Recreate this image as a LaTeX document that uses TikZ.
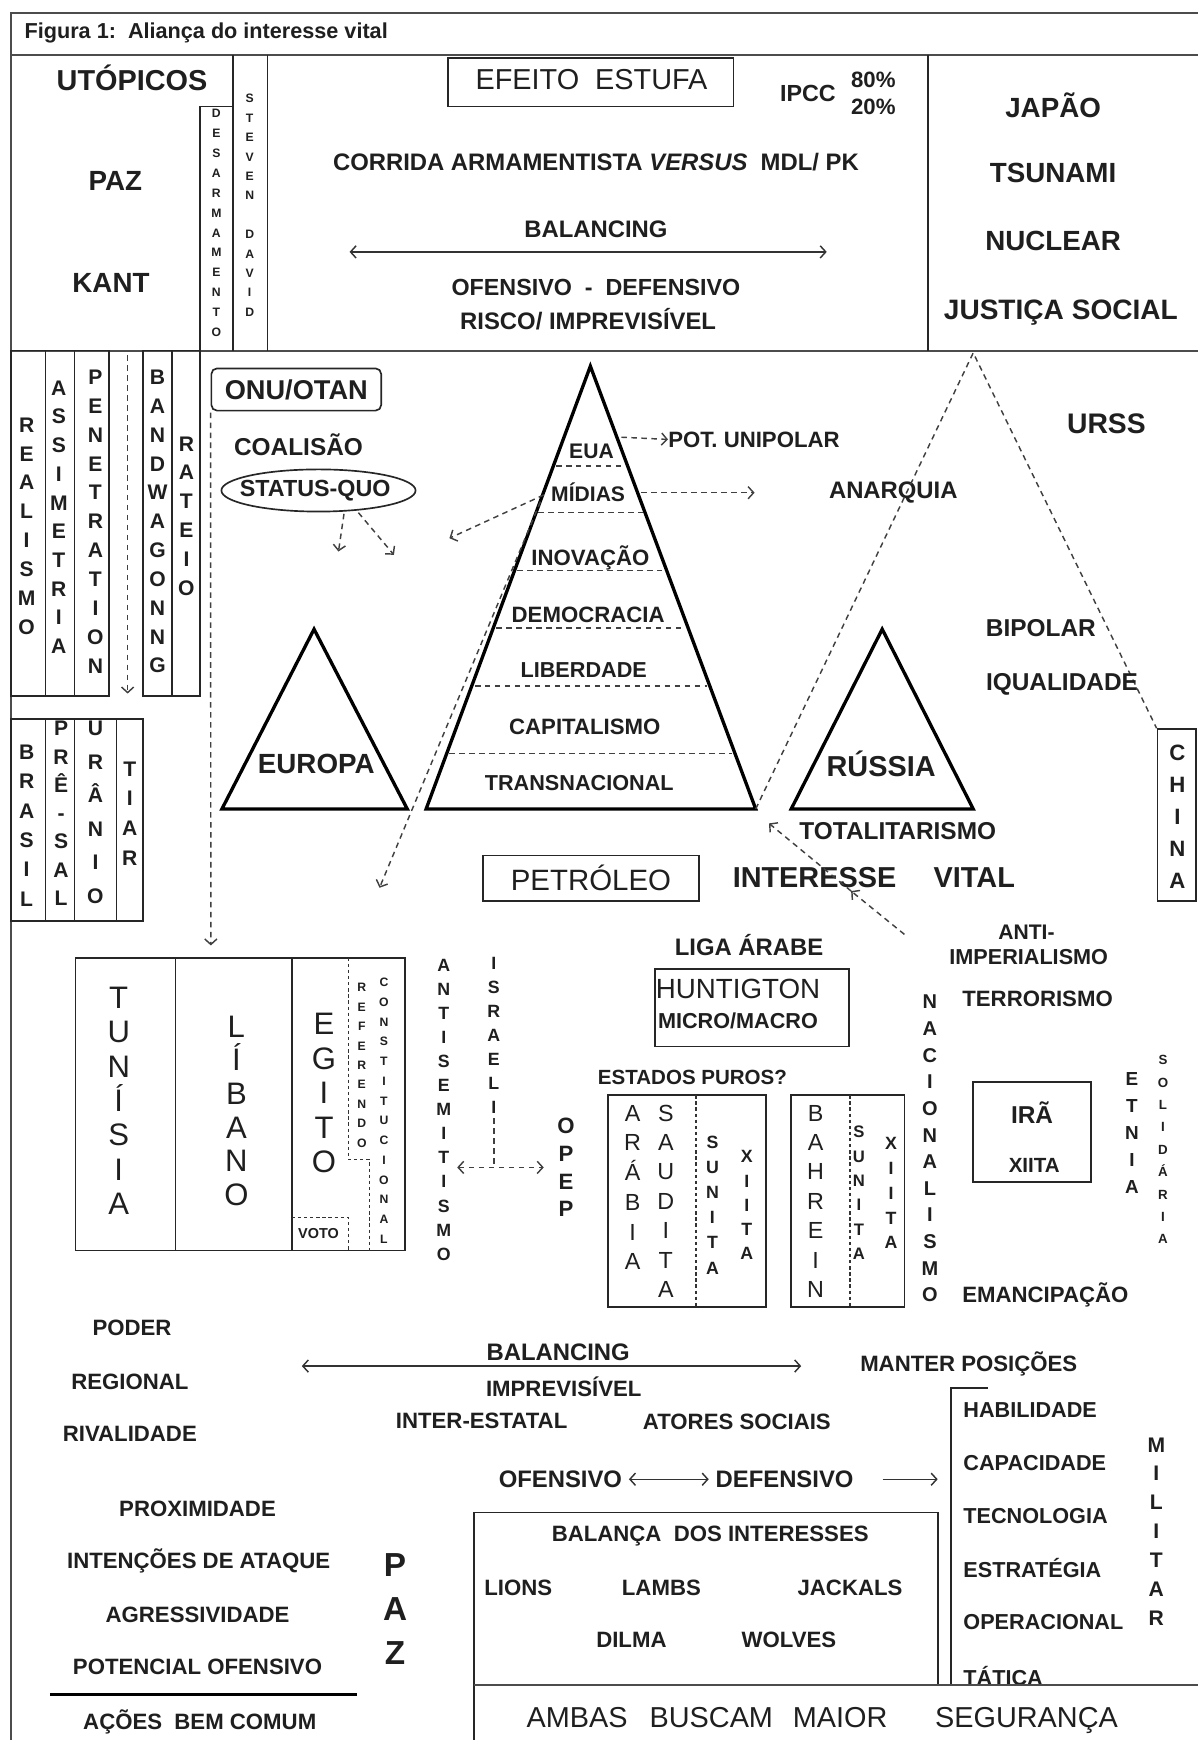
\documentclass[tikz,border=0pt]{standalone}
\usepackage{fontspec}
\setmainfont{Liberation Sans}
\usetikzlibrary{arrows.meta,shapes.geometric}
\newcommand{\myF}[2]{\fontsize{#1}{#2}\selectfont\bfseries}
\newcommand{\myR}[2]{\fontsize{#1}{#2}\selectfont}
\begin{document}
\begin{tikzpicture}[x=1pt,y=-1pt,
  every node/.style={inner sep=0pt, text=black!88},
  frame/.style={line width=1.8pt, draw=black!70},
  box/.style={line width=1.5pt, draw=black!85},
  tri/.style={line width=3pt, line join=miter, draw=black},
  dsh/.style={dash pattern=on 5pt off 4pt, line width=1.3pt, draw=black!75},
  dot/.style={dash pattern=on 3pt off 2.5pt, line width=1.3pt, draw=black!80},
  arr/.style={-{Straight Barb[length=5pt,width=11pt]}},
  darr/.style={{Straight Barb[length=5pt,width=11pt]}-{Straight Barb[length=5pt,width=11pt]}},
  vl/.style={align=center},
  lab/.style={font=\myF{20}{22}},
  big/.style={font=\myR{26}{28}, text height=18.7pt, text depth=0pt}
]
\useasboundingbox (0,0) rectangle (1080,1568);
\fill[white] (0,0) rectangle (1080,1568);

% ---------- frame ----------
\draw[frame] (10,1568) -- (10,12) -- (1080,12);
\draw[frame] (10,50) -- (1080,50);
\draw[frame] (10,316) -- (1080,316);
\node[anchor=west, font=\myF{19.5}{22}] (title) at (22,30) {Figura 1:\ \ Aliança do interesse vital};

% ---------- top section ----------
\draw[box] (210,50) -- (210,316);
\draw[box] (241,50) -- (241,316);
\draw[box] (210,96) -- (180,96) -- (180,316);
\draw[box] (836,50) -- (836,316);
\node[font=\myF{26}{28}] (utop) at (119,70) {UTÓPICOS};
\node[font=\myF{25}{28}] (paz1) at (104,163) {PAZ};
\node[font=\myF{25}{28}] (kant) at (100,255) {KANT};
\node[vl, font=\myF{11}{17.9}] (desarm) at (195,201) {D\\E\\S\\A\\R\\M\\A\\M\\E\\N\\T\\O};
\node[vl, font=\myF{11}{17.5}] (steven) at (225,185) {S\\T\\E\\V\\E\\N\\~\\D\\A\\V\\I\\D};

\node[box, draw, minimum width=257pt, minimum height=44pt] (efeito) at (532.5,74) {};
\node[font=\myR{26}{28}] (efeitot) at (533,72) {EFEITO\ \ ESTUFA};
\node[font=\myF{21}{22}] (ipcc) at (728,84) {IPCC};
\node[font=\myF{20}{22}] (p80) at (787,72) {80\%};
\node[font=\myF{20}{22}] (p20) at (787,96) {20\%};
\node[font=\myF{21.5}{24}] (corrida) at (537,146) {CORRIDA ARMAMENTISTA \textit{VERSUS}\ \ MDL/ PK};
\node[font=\myF{21.5}{24}] (bal1) at (537,207) {BALANCING};
\coordinate (b1l) at (315,227);
\coordinate (b1r) at (745,227);
\draw[darr, line width=1.3pt, draw=black!80] (b1l) -- (b1r);
\node[font=\myF{21}{24}] (ofdef1) at (537,259) {OFENSIVO\ \ -\ \ DEFENSIVO};
\node[font=\myF{21.5}{24}] (risco) at (530,288) {RISCO/ IMPREVISÍVEL};
\node[font=\myF{25}{27}] (japao) at (949,95) {JAPÃO};
\node[font=\myF{25}{27}] (tsunami) at (949,156) {TSUNAMI};
\node[font=\myF{25}{27}] (nuclear) at (949,217) {NUCLEAR};
\node[font=\myF{25.3}{27}, text height=18.1pt, text depth=0pt] (justica) at (956,279) {JUSTIÇA SOCIAL};

% ---------- left boxes ----------
\draw[box] (10,316) rectangle (98,627);
\draw[box] (41,316) -- (41,627);
\draw[box] (67,316) -- (67,627);
\draw[box] (129,316) rectangle (180,627);
\draw[box] (155,316) -- (155,627);
\coordinate (da1) at (115,320);
\coordinate (da2) at (115,625);
\draw[dsh, arr] (da1) -- (da2);
\node[vl, font=\myF{19}{26}] (realismo) at (24,474) {R\\E\\A\\L\\I\\S\\M\\O};
\node[vl, font=\myF{19}{25.9}] (assim) at (53,466) {A\\S\\S\\I\\M\\E\\T\\R\\I\\A};
\node[vl, font=\myF{19}{26}] (penet) at (86,470) {P\\E\\N\\E\\T\\R\\A\\T\\I\\O\\N};
\node[vl, font=\myF{19}{26}] (bandw) at (142,470) {B\\A\\N\\D\\W\\A\\G\\O\\N\\N\\G};
\node[vl, font=\myF{19}{26}] (rateio) at (168,465) {R\\A\\T\\E\\I\\O};

\draw[box] (10,648) rectangle (129,830);
\draw[box] (41,648) -- (41,830);
\draw[box] (67,648) -- (67,830);
\draw[box] (105,648) -- (105,830);
\node[vl, font=\myF{19}{26.4}] (brasil) at (24,744) {B\\R\\A\\S\\I\\L};
\node[vl, font=\myF{19}{25.5}] (presal) at (55,733) {P\\R\\Ê\\-\\S\\A\\L};
\node[vl, font=\myF{19}{30.2}] (uranio) at (86,732) {U\\R\\Â\\N\\I\\O};
\node[vl, font=\myF{19}{26.7}] (tiar) at (117,733) {T\\I\\A\\R};

% ---------- ONU / EUROPA ----------
\node[box, draw, rounded corners=5pt, minimum width=153pt, minimum height=38pt, font=\myF{24.5}{26}] (onu) at (267,351) {ONU/OTAN};
\coordinate (onuarrow) at (190,852);
\draw[dsh, arr] (onu.south west) ++(0,1) -- (onuarrow);
\node[font=\myF{22}{24}] (coal) at (269,401) {COALISÃO};
\node[box, draw, ellipse, minimum width=175pt, minimum height=38pt] (sq) at (287,442) {};
\node[font=\myF{21}{23}] (sqt) at (284,442) {STATUS-QUO};
\coordinate (sqa) at (305,497);
\coordinate (sqb) at (355,500);
\draw[dsh, arr] (310,463) -- (sqa);
\draw[dsh, arr] (323,462) -- (sqb);

\coordinate (eA) at (283,567);
\coordinate (eL) at (200,729);
\coordinate (eR) at (367,729);
\draw[tri] (eL) -- (eA) -- (eR) -- cycle;
\node[font=\myF{25}{27}] (europa) at (285,688) {EUROPA};

% ---------- pyramid ----------
\coordinate (pA) at (532,330);
\coordinate (pL) at (384,729);
\coordinate (pR) at (681,729);
\draw[tri] (pL) -- (pA) -- (pR) -- cycle;
\draw[dsh] (501,420) -- (563,420);
\draw[dsh] (485,462) -- (579,462);
\draw[dsh] (466,514) -- (598,514);
\draw[dsh] (447,566) -- (618,566);
\draw[dsh] (428,618) -- (637,618);
\draw[dsh] (405,679) -- (660,679);
\node[font=\myF{19}{21}] (eua) at (533,407) {EUA};
\node[font=\myF{19}{21}] (midias) at (530,444) {MÍDIAS};
\node[font=\myF{20}{22}] (inov) at (532,503) {INOVAÇÃO};
\node[font=\myF{20}{22}] (democ) at (530,554) {DEMOCRACIA};
\node[font=\myF{19.5}{22}] (liber) at (526,604) {LIBERDADE};
\node[font=\myF{20}{22}] (capit) at (527,655) {CAPITALISMO};
\node[font=\myF{19.5}{22}] (transn) at (522,706) {TRANSNACIONAL};

\node[anchor=west, font=\myF{20}{22}] (unip) at (602,396) {POT. UNIPOLAR};
\draw[dsh, arr] (560,394) -- (unip.west);
\node[font=\myF{21.5}{24}] (anarq) at (805,444) {ANARQUIA};
\coordinate (mda) at (680,444);
\draw[dsh, arr] (578,444) -- (mda);
\coordinate (mdl) at (405,485);
\draw[dsh, arr] (490,446) -- (mdl);
\coordinate (mdd) at (342,800);
\draw[dsh, arr] (487,452) -- (mdd);

% ---------- big dashed triangle, URSS, RUSSIA, CHINA ----------
\coordinate (uA) at (877,318);
\node[box, draw, minimum width=35pt, minimum height=155pt] (china) at (1060.5,734.5) {};
\node[vl, font=\myF{20}{29}] (chinat) at (1061,736) {C\\H\\I\\N\\A};
\draw[dsh] (pR) -- (uA) -- (china.north west);
\node[font=\myF{25.5}{27}] (urss) at (997,382) {URSS};
\node[font=\myF{22}{24}] (bipolar) at (938,566) {BIPOLAR};
\node[font=\myF{22}{24}] (iqual) at (957,617) {IQUALIDADE};
\coordinate (rA) at (795,567);
\coordinate (rL) at (713,729);
\coordinate (rR) at (877,729);
\draw[tri] (rL) -- (rA) -- (rR) -- cycle;
\node[font=\myF{26}{28}] (russia) at (794,688) {RÚSSIA};
\node[font=\myF{22}{24}] (totalit) at (809,749) {TOTALITARISMO};

% ---------- petroleo / interesse vital ----------
\node[box, draw, minimum width=195pt, minimum height=41pt] (petro) at (532.5,791.5) {};
\node[font=\myR{26.5}{28}] (petrot) at (532.5,791) {PETRÓLEO};
\node[font=\myF{26}{28}] (interesse) at (734,791) {INTERESSE};
\node[font=\myF{26}{28}] (vital) at (878,791) {VITAL};
\coordinate (ivs) at (815,842);
\coordinate (ivm) at (767,803);
\coordinate (ive) at (693,742);
\draw[dsh, arr] (ivs) -- (ivm);
\draw[dsh, arr] (ivm) -- (ive);

% ---------- Tunisia / Libano / Egito ----------
\node[box, draw, minimum width=297pt, minimum height=264pt] (arab) at (216.5,995) {};
\draw[box] (158,863) -- (158,1127);
\draw[box] (263,863) -- (263,1127);
\draw[dot] (314,863) -- (314,1045) -- (333,1045) -- (333,1127);
\draw[dot] (263,1097) -- (314,1097) -- (314,1127);
\node[vl, font=\myR{28}{31}] (tunisia) at (107,992) {T\\U\\N\\Í\\S\\I\\A};
\node[vl, font=\myR{28}{30.4}] (libano) at (213,1001) {L\\Í\\B\\A\\N\\O};
\node[vl, font=\myR{28}{31}] (egito) at (292,985) {E\\G\\I\\T\\O};
\node[vl, font=\myF{11}{17.5}] (refer) at (326,960) {R\\E\\F\\E\\R\\E\\N\\D\\O};
\node[vl, font=\myF{11}{17.8}] (constit) at (346,1001) {C\\O\\N\\S\\T\\I\\T\\U\\C\\I\\O\\N\\A\\L};
\node[font=\myF{13}{14}] (voto) at (287,1112) {VOTO};

\node[vl, font=\myF{16}{21.7}] (antisem) at (400,1000) {A\\N\\T\\I\\S\\E\\M\\I\\T\\I\\S\\M\\O};
\node[vl, font=\myF{16}{21.7}] (israeli) at (445,933) {I\\S\\R\\A\\E\\L\\I};
\node[vl, font=\myF{20}{25}] (opep) at (510,1052) {O\\P\\E\\P};
\coordinate (isj) at (445,1052);
\coordinate (isl) at (412,1052);
\coordinate (isr) at (490,1052);
\draw[dsh] (israeli.south) ++(0,4) -- (isj);
\draw[dsh, darr] (isl) -- (isr);

% ---------- middle right ----------
\node[font=\myF{21.5}{24}] (liga) at (675,852) {LIGA ÁRABE};
\node[box, draw, minimum width=175pt, minimum height=70pt] (hunt) at (677.5,908) {};
\node[font=\myR{25}{27}] (huntt) at (665,891) {HUNTIGTON};
\node[font=\myF{19.5}{21}] (micro) at (665,920) {MICRO/MACRO};
\node[font=\myF{18.5}{20}] (estados) at (624,971) {ESTADOS PUROS?};

\node[box, draw, minimum width=142pt, minimum height=191pt] (sauditabox) at (619,1082.5) {};
\draw[dot] (627,987) -- (627,1178);
\node[vl, font=\myR{21}{26.8}] (arabia) at (570,1070) {A\\R\\Á\\B\\I\\A};
\node[vl, font=\myR{21}{26.5}] (saudita) at (600,1082.5) {S\\A\\U\\D\\I\\T\\A};
\node[vl, font=\myF{16}{22.6}] (sun1) at (642,1086) {S\\U\\N\\I\\T\\A};
\node[vl, font=\myF{16}{21.8}] (xi1) at (673,1086) {X\\I\\I\\T\\A};

\node[box, draw, minimum width=102pt, minimum height=191pt] (bahbox) at (764,1082.5) {};
\draw[dot] (766,987) -- (766,1178);
\node[vl, font=\myR{21}{26.5}] (bahrein) at (735,1082.5) {B\\A\\H\\R\\E\\I\\N};
\node[vl, font=\myF{15}{22}] (sun2) at (774,1075) {S\\U\\N\\I\\T\\A};
\node[vl, font=\myF{16}{22.5}] (xi2) at (803,1075) {X\\I\\I\\T\\A};

\node[vl, font=\myF{18}{24}] (nacion) at (838,1035) {N\\A\\C\\I\\O\\N\\A\\L\\I\\S\\M\\O};
\node[font=\myF{19}{21}] (anti) at (925,840) {ANTI-};
\node[font=\myF{19.5}{21}] (imper) at (927,862) {IMPERIALISMO};
\node[font=\myF{20}{22}] (terror) at (935,900) {TERRORISMO};
\node[box, draw, minimum width=106pt, minimum height=90pt] (irabox) at (930,1020) {};
\node[font=\myF{22}{24}] (ira) at (930,1003) {IRÃ};
\node[font=\myF{18.5}{20}] (xi3) at (932,1050) {XIITA};
\node[vl, font=\myF{17}{24.5}] (etnia) at (1020,1021) {E\\T\\N\\I\\A};
\node[vl, font=\myF{12}{20.2}] (solid) at (1048,1036) {S\\O\\L\\I\\D\\Á\\R\\I\\A};
\node[font=\myF{20}{22}] (emanc) at (942,1167) {EMANCIPAÇÃO};

% ---------- bottom ----------
\node[lab] (poder) at (119,1197) {PODER};
\node[lab] (regional) at (117,1245) {REGIONAL};
\node[lab] (rival) at (117,1292) {RIVALIDADE};
\coordinate (b2l) at (272,1231);
\coordinate (b2r) at (722,1231);
\draw[darr, line width=1.3pt, draw=black!80] (b2l) -- (b2r);
\node[font=\myF{21.5}{23}] (bal2) at (503,1219) {BALANCING};
\node[lab] (impr2) at (508,1250) {IMPREVISÍVEL};
\node[lab] (manter) at (873,1229) {MANTER POSIÇÕES};
\node[lab] (interest) at (434,1280) {INTER-ESTATAL};
\node[lab] (atores) at (664,1281) {ATORES SOCIAIS};
\node[font=\myF{21.5}{23}] (ofen2) at (505,1333) {OFENSIVO};
\node[font=\myF{21.5}{23}] (defen2) at (707,1333) {DEFENSIVO};
\draw[darr, line width=1.3pt, draw=black!80] ([xshift=6pt]ofen2.east) -- ([xshift=-6pt]defen2.west);
\coordinate (mil) at (845,1333);
\draw[arr, line width=1.3pt, draw=black!80] ([xshift=26pt]defen2.east) -- (mil);

\draw[box] (890,1251) -- (857,1251) -- (857,1518);
\node[anchor=west, font=\myF{19.5}{22}] (habil) at (868,1271) {HABILIDADE};
\node[anchor=west, font=\myF{19.5}{22}] (capac) at (868,1318) {CAPACIDADE};
\node[anchor=west, font=\myF{19.5}{22}] (tecno) at (868,1366) {TECNOLOGIA};
\node[anchor=west, font=\myF{19.5}{22}] (estrat) at (868,1413) {ESTRATÉGIA};
\node[anchor=west, font=\myF{19.5}{22}] (operac) at (868,1462) {OPERACIONAL};
\node[anchor=west, font=\myF{19.5}{22}] (tatica) at (868,1510) {TÁTICA};
\node[vl, font=\myF{19}{26}] (militar) at (1042,1380) {M\\I\\L\\I\\T\\A\\R};

\draw[box] (427,1568) -- (427,1363) -- (845,1363) -- (845,1518);
\draw[frame] (427,1518) -- (1080,1518);
\node[lab] (balint) at (640,1384) {BALANÇA\ \ DOS INTERESSES};
\node[lab] (lions) at (467,1431) {LIONS};
\node[lab] (lambs) at (596,1431) {LAMBS};
\node[lab] (jackals) at (766,1431) {JACKALS};
\node[lab] (dilma) at (569,1478) {DILMA};
\node[lab] (wolves) at (711,1478) {WOLVES};
\node[big] (ambas) at (520,1547) {AMBAS};
\node[big] (buscam) at (641,1547) {BUSCAM};
\node[big] (maior) at (757,1547) {MAIOR};
\node[big] (segur) at (925,1547) {SEGURANÇA};

\node[lab] (proxim) at (178,1360) {PROXIMIDADE};
\node[lab] (intenc) at (179,1407) {INTENÇÕES DE ATAQUE};
\node[lab] (agress) at (178,1455) {AGRESSIVIDADE};
\node[lab] (potenc) at (178,1502) {POTENCIAL OFENSIVO};
\coordinate (lnl) at (45,1527);
\coordinate (lnr) at (322,1527);
\draw[line width=2.5pt] (lnl) -- (lnr);
\node[lab] (acoes) at (180,1552) {AÇÕES\ \ BEM COMUM};
\node[vl, font=\myF{30}{40}] (paz2) at (356,1450) {P\\A\\Z};
\end{tikzpicture}
\end{document}
